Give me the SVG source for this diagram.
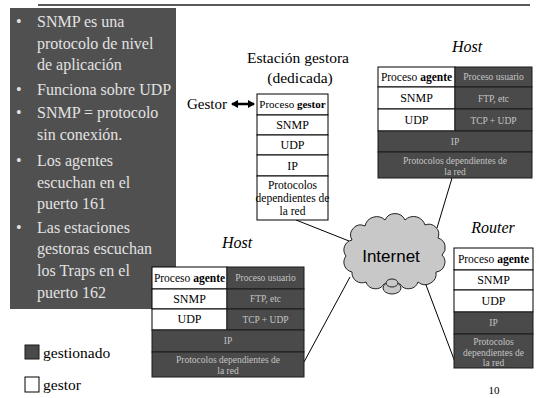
<svg xmlns="http://www.w3.org/2000/svg" width="539" height="398" viewBox="0 0 539 398">
<defs>
<marker id="ah" markerWidth="8" markerHeight="8" refX="6" refY="4" orient="auto-start-reverse" markerUnits="userSpaceOnUse">
<path d="M0,0 L7,4 L0,8 Z" fill="#000"/>
</marker>
</defs>
<rect width="539" height="398" fill="#fff"/>
<line x1="38" y1="5" x2="530" y2="5" stroke="#222" stroke-width="1.5"/>

<g id="panel">
<rect x="10" y="8" width="166" height="301" fill="#505050"/>
<text style="font-family:'Liberation Serif'" font-size="16" fill="#e2e2e2" x="16" y="27">•</text>
<text style="font-family:'Liberation Serif'" font-size="16" fill="#e2e2e2" x="37" y="27">SNMP es una</text>
<text style="font-family:'Liberation Serif'" font-size="16" fill="#e2e2e2" x="37" y="49">protocolo de nivel</text>
<text style="font-family:'Liberation Serif'" font-size="16" fill="#e2e2e2" x="37" y="70">de aplicación</text>
<text style="font-family:'Liberation Serif'" font-size="16" fill="#e2e2e2" x="16" y="95">•</text>
<text style="font-family:'Liberation Serif'" font-size="16" fill="#e2e2e2" x="37" y="95">Funciona sobre UDP</text>
<text style="font-family:'Liberation Serif'" font-size="16" fill="#e2e2e2" x="16" y="118">•</text>
<text style="font-family:'Liberation Serif'" font-size="16" fill="#e2e2e2" x="37" y="118">SNMP = protocolo</text>
<text style="font-family:'Liberation Serif'" font-size="16" fill="#e2e2e2" x="37" y="140">sin conexión.</text>
<text style="font-family:'Liberation Serif'" font-size="16" fill="#e2e2e2" x="16" y="166">•</text>
<text style="font-family:'Liberation Serif'" font-size="16" fill="#e2e2e2" x="37" y="166">Los agentes</text>
<text style="font-family:'Liberation Serif'" font-size="16" fill="#e2e2e2" x="37" y="188">escuchan en el</text>
<text style="font-family:'Liberation Serif'" font-size="16" fill="#e2e2e2" x="37" y="209">puerto 161</text>
<text style="font-family:'Liberation Serif'" font-size="16" fill="#e2e2e2" x="16" y="233">•</text>
<text style="font-family:'Liberation Serif'" font-size="16" fill="#e2e2e2" x="37" y="233">Las estaciones</text>
<text style="font-family:'Liberation Serif'" font-size="16" fill="#e2e2e2" x="37" y="254">gestoras escuchan</text>
<text style="font-family:'Liberation Serif'" font-size="16" fill="#e2e2e2" x="37" y="276">los Traps en el</text>
<text style="font-family:'Liberation Serif'" font-size="16" fill="#e2e2e2" x="37" y="298">puerto 162</text>
</g>

<g id="connectors">
<line x1="296" y1="220" x2="349" y2="241" stroke="#000" stroke-width="1"/>
<line x1="452" y1="178" x2="437" y2="228" stroke="#000" stroke-width="1"/>
<line x1="350" y1="277" x2="304" y2="362" stroke="#000" stroke-width="1"/>
<line x1="423" y1="277" x2="455" y2="362" stroke="#000" stroke-width="1"/>
<line x1="232" y1="104" x2="254" y2="104" stroke="#000" stroke-width="2.5" marker-start="url(#ah)" marker-end="url(#ah)"/>
</g>

<g id="station">
<text style="font-family:'Liberation Serif'" font-size="15.5" fill="#000" x="298" y="63" text-anchor="middle">Estación gestora</text>
<text style="font-family:'Liberation Serif'" font-size="15.5" fill="#000" x="300" y="83" text-anchor="middle">(dedicada)</text>
<text style="font-family:'Liberation Serif'" font-size="15" fill="#000" x="187" y="109">Gestor</text>
<rect x="257" y="94" width="71" height="21" fill="#fff" stroke="#000"/>
<rect x="257" y="115" width="71" height="20" fill="#fff" stroke="#000"/>
<rect x="257" y="135" width="71" height="20" fill="#fff" stroke="#000"/>
<rect x="257" y="155" width="71" height="21" fill="#fff" stroke="#000"/>
<rect x="257" y="176" width="71" height="44" fill="#fff" stroke="#000"/>
<text style="font-family:'Liberation Serif'" font-size="11" fill="#000" text-anchor="middle" x="292.5" y="108">Proceso <tspan font-weight="bold">gestor</tspan></text>
<text style="font-family:'Liberation Serif'" font-size="12" fill="#000" text-anchor="middle" x="292.5" y="129">SNMP</text>
<text style="font-family:'Liberation Serif'" font-size="12" fill="#000" text-anchor="middle" x="292.5" y="149">UDP</text>
<text style="font-family:'Liberation Serif'" font-size="12" fill="#000" text-anchor="middle" x="292.5" y="170">IP</text>
<text style="font-family:'Liberation Serif'" font-size="11.5" fill="#000" text-anchor="middle" x="292.5" y="189">Protocolos</text>
<text style="font-family:'Liberation Serif'" font-size="11.5" fill="#000" text-anchor="middle" x="292.5" y="202">dependientes de</text>
<text style="font-family:'Liberation Serif'" font-size="11.5" fill="#000" text-anchor="middle" x="292.5" y="215">la red</text>
</g>

<g id="host1">
<text style="font-family:'Liberation Serif'" font-size="16" font-style="italic" fill="#000" text-anchor="middle" x="467" y="52">Host</text>
<rect x="378" y="67" width="77" height="20" fill="#fff" stroke="#000"/>
<rect x="455" y="67" width="77" height="20" fill="#4a4a4a" stroke="#1a1a1a"/>
<rect x="378" y="87" width="77" height="22" fill="#fff" stroke="#000"/>
<rect x="455" y="87" width="77" height="22" fill="#4a4a4a" stroke="#1a1a1a"/>
<rect x="378" y="109" width="77" height="22" fill="#fff" stroke="#000"/>
<rect x="455" y="109" width="77" height="22" fill="#4a4a4a" stroke="#1a1a1a"/>
<rect x="378" y="131" width="154" height="21" fill="#4a4a4a" stroke="#1a1a1a"/>
<rect x="378" y="152" width="154" height="26" fill="#4a4a4a" stroke="#1a1a1a"/>
<text style="font-family:'Liberation Serif'" font-size="11.5" fill="#000" text-anchor="middle" x="416.5" y="81">Proceso <tspan font-weight="bold">agente</tspan></text>
<text style="font-family:'Liberation Serif'" font-size="9.5" fill="#c4c4c4" text-anchor="middle" x="493.5" y="80">Proceso usuario</text>
<text style="font-family:'Liberation Serif'" font-size="12" fill="#000" text-anchor="middle" x="416.5" y="102">SNMP</text>
<text style="font-family:'Liberation Serif'" font-size="9.5" fill="#c4c4c4" text-anchor="middle" x="493.5" y="102">FTP, etc</text>
<text style="font-family:'Liberation Serif'" font-size="12" fill="#000" text-anchor="middle" x="416.5" y="124">UDP</text>
<text style="font-family:'Liberation Serif'" font-size="9.5" fill="#c4c4c4" text-anchor="middle" x="493.5" y="124">TCP + UDP</text>
<text style="font-family:'Liberation Serif'" font-size="9.5" fill="#c4c4c4" text-anchor="middle" x="455" y="145">IP</text>
<text style="font-family:'Liberation Serif'" font-size="9.5" fill="#c4c4c4" text-anchor="middle" x="455" y="164">Protocolos dependientes de</text>
<text style="font-family:'Liberation Serif'" font-size="9.5" fill="#c4c4c4" text-anchor="middle" x="455" y="175">la red</text>
</g>

<g id="host2">
<text style="font-family:'Liberation Serif'" font-size="16" font-style="italic" fill="#000" text-anchor="middle" x="237" y="248">Host</text>
<rect x="152" y="267" width="75" height="22" fill="#fff" stroke="#000"/>
<rect x="227" y="267" width="77" height="22" fill="#4a4a4a" stroke="#1a1a1a"/>
<rect x="152" y="289" width="75" height="20" fill="#fff" stroke="#000"/>
<rect x="227" y="289" width="77" height="20" fill="#4a4a4a" stroke="#1a1a1a"/>
<rect x="152" y="309" width="75" height="21" fill="#fff" stroke="#000"/>
<rect x="227" y="309" width="77" height="21" fill="#4a4a4a" stroke="#1a1a1a"/>
<rect x="152" y="330" width="152" height="22" fill="#4a4a4a" stroke="#1a1a1a"/>
<rect x="152" y="352" width="152" height="25" fill="#4a4a4a" stroke="#1a1a1a"/>
<text style="font-family:'Liberation Serif'" font-size="11.5" fill="#000" text-anchor="middle" x="189.5" y="282">Proceso <tspan font-weight="bold">agente</tspan></text>
<text style="font-family:'Liberation Serif'" font-size="9.5" fill="#c4c4c4" text-anchor="middle" x="265.5" y="281">Proceso usuario</text>
<text style="font-family:'Liberation Serif'" font-size="12" fill="#000" text-anchor="middle" x="189.5" y="303">SNMP</text>
<text style="font-family:'Liberation Serif'" font-size="9.5" fill="#c4c4c4" text-anchor="middle" x="265.5" y="302">FTP, etc</text>
<text style="font-family:'Liberation Serif'" font-size="12" fill="#000" text-anchor="middle" x="189.5" y="323">UDP</text>
<text style="font-family:'Liberation Serif'" font-size="9.5" fill="#c4c4c4" text-anchor="middle" x="265.5" y="323">TCP + UDP</text>
<text style="font-family:'Liberation Serif'" font-size="9.5" fill="#c4c4c4" text-anchor="middle" x="228" y="344">IP</text>
<text style="font-family:'Liberation Serif'" font-size="9.5" fill="#c4c4c4" text-anchor="middle" x="228" y="363">Protocolos dependientes de</text>
<text style="font-family:'Liberation Serif'" font-size="9.5" fill="#c4c4c4" text-anchor="middle" x="228" y="374">la red</text>
</g>

<g id="router">
<text style="font-family:'Liberation Serif'" font-size="16" font-style="italic" fill="#000" text-anchor="middle" x="493" y="233">Router</text>
<rect x="454" y="248" width="79" height="22" fill="#fff" stroke="#000"/>
<rect x="454" y="270" width="79" height="20" fill="#fff" stroke="#000"/>
<rect x="454" y="290" width="79" height="22" fill="#fff" stroke="#000"/>
<rect x="454" y="312" width="79" height="22" fill="#4a4a4a" stroke="#1a1a1a"/>
<rect x="454" y="334" width="79" height="34" fill="#4a4a4a" stroke="#1a1a1a"/>
<text style="font-family:'Liberation Serif'" font-size="11.5" fill="#000" text-anchor="middle" x="493.5" y="263">Proceso <tspan font-weight="bold">agente</tspan></text>
<text style="font-family:'Liberation Serif'" font-size="12" fill="#000" text-anchor="middle" x="493.5" y="284">SNMP</text>
<text style="font-family:'Liberation Serif'" font-size="12" fill="#000" text-anchor="middle" x="493.5" y="305">UDP</text>
<text style="font-family:'Liberation Serif'" font-size="9.5" fill="#c4c4c4" text-anchor="middle" x="493.5" y="326">IP</text>
<text style="font-family:'Liberation Serif'" font-size="9.5" fill="#c4c4c4" text-anchor="middle" x="493.5" y="345">Protocolos</text>
<text style="font-family:'Liberation Serif'" font-size="9.5" fill="#c4c4c4" text-anchor="middle" x="493.5" y="356">dependientes de</text>
<text style="font-family:'Liberation Serif'" font-size="9.5" fill="#c4c4c4" text-anchor="middle" x="493.5" y="366">la red</text>
</g>

<g id="internet">
<path d="M352,240 A10,10 0 0 1 365,226 A12,12 0 0 1 385,220 A11,11 0 0 1 405,220 A12,12 0 0 1 425,225 A10,10 0 0 1 438,238 A10,10 0 0 1 442,255 A10,10 0 0 1 436,272 A11,11 0 0 1 418,282 A10,10 0 0 1 400,284 L384,284 A10,10 0 0 1 366,282 A10,10 0 0 1 352,272 A10,10 0 0 1 346,256 A10,10 0 0 1 352,240 Z" fill="#c8c8c8" stroke="#222" stroke-width="1"/>
<ellipse cx="392" cy="288" rx="9" ry="6" fill="#c8c8c8" stroke="#222" stroke-width="1"/>
<ellipse cx="392" cy="283" rx="6" ry="4" fill="#c8c8c8" stroke="#222" stroke-width="1"/>
<text style="font-family:'Liberation Sans'" font-size="17" fill="#000" text-anchor="middle" x="391" y="262">Internet</text>
</g>

<g id="legend">
<rect x="25" y="345" width="14" height="14" fill="#4a4a4a" stroke="#1a1a1a"/>
<text style="font-family:'Liberation Serif'" font-size="15.5" fill="#000" x="43" y="358">gestionado</text>
<rect x="25" y="377" width="14" height="15" fill="#fff" stroke="#000"/>
<text style="font-family:'Liberation Serif'" font-size="15.5" fill="#000" x="43" y="390">gestor</text>
</g>
<text style="font-family:'Liberation Serif'" font-size="11" fill="#000" text-anchor="middle" x="494" y="394">10</text>
</svg>
